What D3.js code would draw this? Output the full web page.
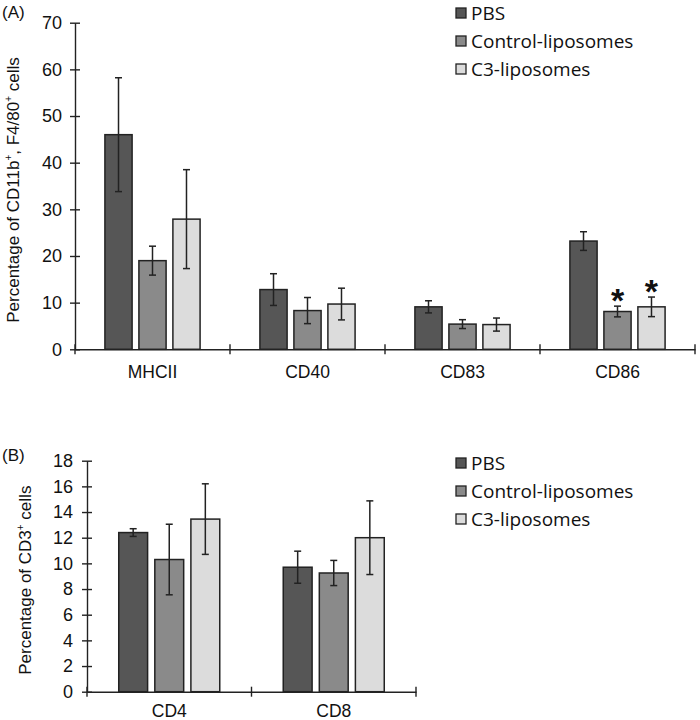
<!DOCTYPE html>
<html>
<head>
<meta charset="utf-8">
<script src="https://cdn.jsdelivr.net/npm/d3@7"></script>
<style>
body{margin:0;background:#fff;}
svg{display:block;}
</style>
</head>
<body>
<svg id="chart" width="700" height="720"></svg>
<script>
// ---------- DATA ----------
const series = ["PBS", "Control-liposomes", "C3-liposomes"];
const colors = ["#565656", "#8a8a8a", "#dcdcdc"];

const catsA = ["MHCII", "CD40", "CD83", "CD86"];
const pbsA = [46.0, 12.8, 9.1, 23.2];
const pbsErrA = [12.2, 3.4, 1.3, 2.0];
const ctrlA = [19.0, 8.3, 5.4, 8.1];
const ctrlErrA = [3.1, 2.8, 0.95, 1.15];
const c3A = [27.9, 9.7, 5.3, 9.1];
const c3ErrA = [10.6, 3.4, 1.4, 2.1];
const ticksA = [0, 10, 20, 30, 40, 50, 60, 70];
const sigA = [{cat: "CD86", s: 1}, {cat: "CD86", s: 2}];

const catsB = ["CD4", "CD8"];
const pbsB = [12.4, 9.7];
const pbsErrB = [0.3, 1.25];
const ctrlB = [10.3, 9.25];
const ctrlErrB = [2.75, 0.98];
const c3B = [13.45, 12.0];
const c3ErrB = [2.75, 2.87];
const ticksB = [0, 2, 4, 6, 8, 10, 12, 14, 16, 18];

const svg = d3.select("#chart");
const font = "Arial, 'Liberation Sans', Helvetica, sans-serif";
const legendFont = "'Open Sans', sans-serif";
const ink = "#222";

function panel(opt) {
  const {cats, vals, errs, ticks, ymax, xRange, yRange, sig, ylabel, ylabX, letter, letterY, legendY, xLabelY, tickLabelX} = opt;
  const g = svg.append("g");
  const x = d3.scaleBand().domain(cats).range(xRange).padding(0);
  const xs = d3.scaleBand().domain(d3.range(series.length)).range([0, x.bandwidth()])
    .paddingInner(0.2).paddingOuter(0.88);
  const y = d3.scaleLinear().domain([0, ymax]).range(yRange);

  const rows = [];
  cats.forEach((c, i) => series.forEach((s, j) => rows.push({c, j, v: vals[j][i], e: errs[j][i]})));

  // bars
  g.selectAll("rect.bar").data(rows).enter().append("rect")
    .attr("x", d => x(d.c) + xs(d.j))
    .attr("y", d => y(d.v))
    .attr("width", xs.bandwidth())
    .attr("height", d => y(0) - y(d.v))
    .attr("fill", d => colors[d.j])
    .attr("stroke", ink)
    .attr("stroke-width", 1.5);

  // error bars
  const eb = g.selectAll("g.eb").data(rows).enter().append("g")
    .attr("stroke", ink).attr("stroke-width", 1.5);
  const cx = d => x(d.c) + xs(d.j) + xs.bandwidth() / 2;
  eb.append("line").attr("x1", cx).attr("x2", cx)
    .attr("y1", d => y(d.v + d.e)).attr("y2", d => y(d.v - d.e));
  eb.append("line").attr("x1", d => cx(d) - 3.5).attr("x2", d => cx(d) + 3.5)
    .attr("y1", d => y(d.v + d.e)).attr("y2", d => y(d.v + d.e));
  eb.append("line").attr("x1", d => cx(d) - 3.5).attr("x2", d => cx(d) + 3.5)
    .attr("y1", d => y(d.v - d.e)).attr("y2", d => y(d.v - d.e));

  // significance asterisks
  if (sig) {
    g.selectAll("text.sig").data(sig).enter().append("text")
      .attr("x", d => x(d.cat) + xs(d.s) + xs.bandwidth() / 2)
      .attr("y", d => {
        const i = cats.indexOf(d.cat);
        return y(vals[d.s][i] + errs[d.s][i]) + 6;
      })
      .attr("text-anchor", "middle")
      .attr("font-family", font).attr("font-weight", "bold").attr("font-size", 34)
      .attr("fill", "#111").text("*");
  }

  // y axis
  const yAxis = d3.axisLeft(y).tickValues(ticks).tickSize(0).tickFormat(d3.format("d"));
  const ya = g.append("g").attr("transform", `translate(${xRange[0]},0)`).call(yAxis);
  ya.attr("font-family", null).attr("font-size", null);
  ya.select(".domain").attr("stroke", ink).attr("stroke-width", 1.4);
  ya.selectAll(".tick line").remove();
  ya.selectAll(".tick").append("line").attr("x1", -5).attr("x2", 5).attr("stroke", ink).attr("stroke-width", 1.4);
  ya.selectAll(".tick text").attr("x", tickLabelX - xRange[0]).attr("font-size", 18)
    .attr("font-family", font).attr("fill", "#111");

  // x axis
  const xa = g.append("g").attr("transform", `translate(0,${y(0)})`)
    .call(d3.axisBottom(x).tickSize(0).tickPadding(0));
  xa.attr("font-family", null).attr("font-size", null);
  xa.select(".domain").attr("stroke", ink).attr("stroke-width", 1.4);
  xa.selectAll(".tick text").attr("y", xLabelY - y(0)).attr("dy", "0.35em")
    .attr("font-size", 17.5).attr("font-family", font).attr("fill", "#111");
  const bounds = cats.map(c => x(c)).concat([xRange[1]]);
  xa.selectAll("line.sep").data(bounds).enter().append("line")
    .attr("x1", d => d).attr("x2", d => d).attr("y1", -5).attr("y2", 5)
    .attr("stroke", ink).attr("stroke-width", 1.4);

  // y label
  g.append("text")
    .attr("transform", `translate(${ylabX},${(yRange[0] + yRange[1]) / 2 + 4}) rotate(-90)`)
    .attr("text-anchor", "middle").attr("dy", "0.35em")
    .attr("font-family", font).attr("font-size", 17).attr("fill", "#111")
    .html(ylabel);

  // panel letter
  g.append("text").attr("x", 2).attr("y", letterY).attr("dy", "0.35em")
    .attr("font-family", font).attr("font-size", 17).attr("fill", "#111").text(letter);

  // legend
  const lg = g.append("g");
  series.forEach((s, j) => {
    const ly = legendY + j * 28;
    lg.append("rect").attr("x", 456).attr("y", ly - 5).attr("width", 10).attr("height", 10)
      .attr("fill", colors[j]).attr("stroke", ink).attr("stroke-width", 1.3);
    lg.append("text").attr("x", 471).attr("y", ly).attr("dy", "0.35em")
      .attr("font-family", legendFont).attr("font-size", 19).attr("fill", "#111").text(s);
  });
}

panel({
  cats: catsA, vals: [pbsA, ctrlA, c3A], errs: [pbsErrA, ctrlErrA, c3ErrA],
  ticks: ticksA, ymax: 70, xRange: [75, 695], yRange: [349.3, 22.7], sig: sigA,
  ylabel: 'Percentage of CD11b<tspan dy="-7" font-size="10">+</tspan><tspan dy="7">, F4/80</tspan><tspan dy="-7" font-size="10">+</tspan><tspan dy="7"> cells</tspan>',
  ylabX: 13, letter: "(A)", letterY: 12.5, legendY: 13, xLabelY: 371.7, tickLabelX: 62
});

panel({
  cats: catsB, vals: [pbsB, ctrlB, c3B], errs: [pbsErrB, ctrlErrB, c3ErrB],
  ticks: ticksB, ymax: 18, xRange: [87, 416], yRange: [691.7, 460.7], sig: null,
  ylabel: 'Percentage of CD3<tspan dy="-7" font-size="10">+</tspan><tspan dy="7"> cells</tspan>',
  ylabX: 25, letter: "(B)", letterY: 455, legendY: 463, xLabelY: 710.5, tickLabelX: 73
});
</script>
</body>
</html>
